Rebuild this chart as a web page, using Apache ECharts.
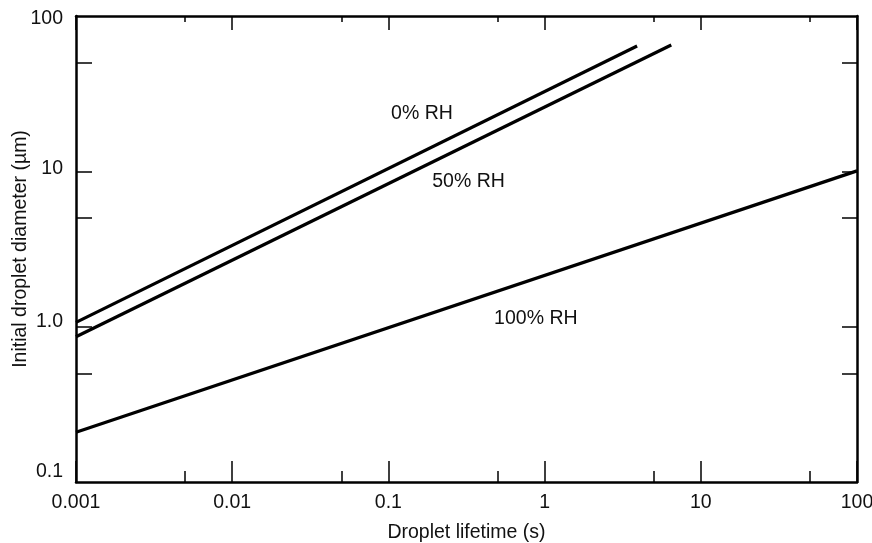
<!DOCTYPE html>
<html>
<head>
<meta charset="utf-8">
<title>Droplet lifetime vs initial diameter</title>
<script src="https://cdn.jsdelivr.net/npm/echarts@6/dist/echarts.min.js"></script>
<style>
  html, body { margin: 0; padding: 0; background: #ffffff; }
  #chart { width: 872px; height: 543px; }
</style>
</head>
<body>
<div id="chart"></div>
<script>
// Evaporation lines: [lifetime (s), initial diameter (µm)] end points
const rh0 = [[0.001, 1.065], [3.91, 64.1]];
const rh50 = [[0.001, 0.861], [6.47, 65.0]];
const rh100 = [[0.001, 0.209], [100, 10.07]];

// Curve annotations: [lifetime, diameter, text]
const curveLabels = [
  [0.164, 23.5, '0% RH'],
  [0.326, 8.55, '50% RH'],
  [0.879, 1.12, '100% RH']
];

// Tick values
const xMajorTicks = [0.001, 0.01, 0.1, 1, 10, 100];
const xMinorTicks = [0.005, 0.05, 0.5, 5, 50];
const yTicks = [0.5, 1, 5, 10, 50];
const yLabelText = { 0.1: '0.1', 1: '1.0', 10: '10', 100: '100' };

const ink = '#000000';
const textInk = '#111111';
const font = 'Liberation Sans, Arial, sans-serif';
const fontSize = 19.5;

// Per-decade label styles on the diameter axis (hand-set vertical nudges)
const yLabelRich = {
  d0: { fontFamily: font, fontSize: fontSize, color: textInk, padding: [0, 0, 21, 0] },
  d1: { fontFamily: font, fontSize: fontSize, color: textInk, padding: [0, 0, 10, 0] },
  d2: { fontFamily: font, fontSize: fontSize, color: textInk, padding: [0, 0, 5, 0] },
  d3: { fontFamily: font, fontSize: fontSize, color: textInk, padding: [5, 0, 0, 0] }
};
const yLabelStyle = { 0.1: 'd0', 1: 'd1', 10: 'd2', 100: 'd3' };

function xAxisDef(position, ticks, len, withLine, withLabels) {
  return {
    type: 'log', logBase: 10, min: 0.001, max: 100, position: position,
    axisLine: { show: withLine, onZero: false, lineStyle: { color: ink, width: 2.5 } },
    axisTick: { show: true, inside: true, length: len, customValues: ticks,
      lineStyle: { color: ink, width: 1.5 } },
    axisLabel: { show: withLabels, color: textInk, fontFamily: font, fontSize: fontSize, margin: 11,
      formatter: v => String(v) },
    splitLine: { show: false },
    minorTick: { show: false }
  };
}
function yAxisDef(position, len, withLabels) {
  return {
    type: 'log', logBase: 10, min: 0.1, max: 100, position: position,
    axisLine: { show: true, onZero: false, lineStyle: { color: ink, width: 2.5 } },
    axisTick: { show: true, inside: true, length: len, customValues: yTicks,
      lineStyle: { color: ink, width: 1.5 } },
    axisLabel: { show: withLabels, color: textInk, fontFamily: font, fontSize: fontSize, margin: 13,
      rich: yLabelRich,
      formatter: v => yLabelText[v] !== undefined
        ? '{' + yLabelStyle[v] + '|' + yLabelText[v] + '}' : '' },
    splitLine: { show: false }
  };
}

const bottomMajor = xAxisDef('bottom', xMajorTicks, 21, true, true);
bottomMajor.name = 'Droplet lifetime (s)';
bottomMajor.nameLocation = 'middle';
bottomMajor.nameGap = 41;
bottomMajor.nameTextStyle = { color: textInk, fontFamily: font, fontSize: fontSize };

const leftAxis = yAxisDef('left', 16, true);
leftAxis.name = 'Initial droplet diameter (µm)';
leftAxis.nameLocation = 'middle';
leftAxis.nameGap = 45;
leftAxis.nameMoveOverlap = false;
leftAxis.nameTextStyle = { color: textInk, fontFamily: font, fontSize: fontSize };

const lineStyle = { color: ink, width: 3.2 };
function curve(data) {
  return { type: 'line', xAxisIndex: 0, yAxisIndex: 0, data: data, symbol: 'none',
    lineStyle: lineStyle, silent: true, animation: false };
}

const option = {
  animation: false,
  backgroundColor: '#ffffff',
  grid: { left: 76, right: 15, top: 16, bottom: 61, containLabel: false, outerBoundsMode: 'none' },
  xAxis: [
    bottomMajor,
    xAxisDef('bottom', xMinorTicks, 11, false, false),
    xAxisDef('top', xMajorTicks, 14, true, false),
    xAxisDef('top', xMinorTicks, 6, false, false)
  ],
  yAxis: [
    leftAxis,
    yAxisDef('right', 15, false)
  ],
  series: [
    curve(rh0),
    curve(rh50),
    curve(rh100),
    {
      type: 'scatter', xAxisIndex: 0, yAxisIndex: 0, symbolSize: 1, silent: true,
      itemStyle: { color: 'rgba(0,0,0,0)', opacity: 1 },
      data: curveLabels.map(d => ({ value: [d[0], d[1]], name: d[2] })),
      label: { show: true, position: 'inside', formatter: p => p.name,
        color: textInk, fontFamily: font, fontSize: fontSize, opacity: 1 }
    }
  ]
};

const chart = echarts.init(document.getElementById('chart'), null, { renderer: 'canvas' });
chart.setOption(option);
</script>
</body>
</html>
